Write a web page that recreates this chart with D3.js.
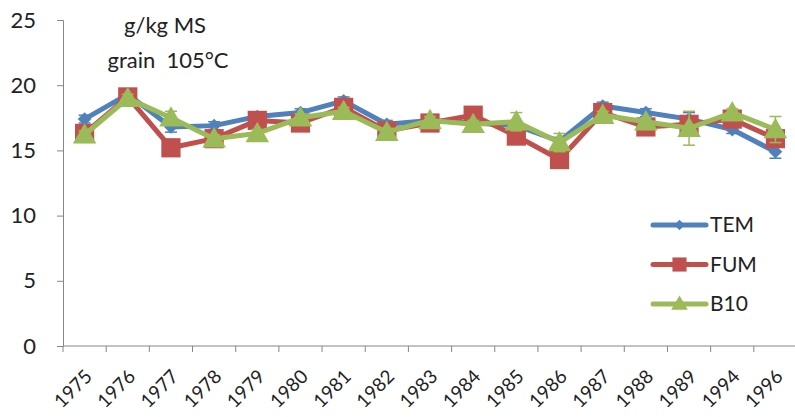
<!DOCTYPE html>
<html>
<head>
<meta charset="utf-8">
<script src="https://cdn.jsdelivr.net/npm/d3@7"></script>
<style>
  body { margin: 0; background: #fff; }
  text { font-family: Lato, "Open Sans", sans-serif; fill: #222; white-space: pre; }
</style>
</head>
<body>
<div class="canvas"></div>
<script>
// categories (years) and series
const years = ['1975','1976','1977','1978','1979','1980','1981','1982','1983','1984','1985','1986','1987','1988','1989','1994','1996'];
const tem = [17.4, 19.3, 16.8, 16.9, 17.6, 17.9, 18.8, 17.0, 17.3, 17.1, 16.9, 15.7, 18.4, 17.9, 17.4, 16.6, 14.9];
const fum = [16.3, 19.1, 15.2, 15.9, 17.3, 17.1, 18.3, 16.5, 17.1, 17.7, 16.1, 14.3, 17.9, 16.8, 17.0, 17.4, 15.9];
const b10 = [16.2, 19.0, 17.5, 15.9, 16.3, 17.5, 18.0, 16.4, 17.3, 17.0, 17.2, 15.6, 17.7, 17.2, 16.7, 17.9, 16.6];
// error bars (only a few visible outside the markers)
const temErr = [0.3, 0.3, 0.4, 0.3, 0.3, 0.3, 0.3, 0.3, 0.3, 0.3, 0.3, 0.3, 0.3, 0.3, 0.5, 0.3, 0.5];
const fumErr = [0.3, 0.3, 0.3, 0.3, 0.3, 0.3, 0.3, 0.3, 0.3, 0.3, 0.3, 0.3, 0.3, 0.3, 0.3, 0.3, 0.3];
const b10Err = [0.3, 0.3, 0.5, 0.3, 0.3, 0.3, 0.3, 0.3, 0.3, 0.3, 0.7, 0.7, 0.3, 0.3, 1.3, 0.3, 1.0];
const yTicks = [0, 5, 10, 15, 20, 25];
const titleLines = ['g/kg MS', 'grain  105°C'];

const series = [
  { name: 'TEM', values: tem, err: temErr, color: '#4F81BD', shape: 'diamond' },
  { name: 'FUM', values: fum, err: fumErr, color: '#C0504D', shape: 'square' },
  { name: 'B10', values: b10, err: b10Err, color: '#9BBB59', shape: 'triangle' }
];

const dims = { width: 795, height: 417 };
const plot = { left: 63, right: 797, top: 20, bottom: 346 };

const svg = d3.select('.canvas').append('svg')
  .attr('width', dims.width)
  .attr('height', dims.height);

const x = d3.scaleBand().domain(years).range([plot.left, plot.right]);
const y = d3.scaleLinear().domain([0, 25]).range([plot.bottom, plot.top]);

// y axis
const yAxis = svg.append('g')
  .attr('transform', `translate(${plot.left},0)`)
  .call(d3.axisLeft(y).tickValues(yTicks).tickSize(6).tickPadding(21));
yAxis.select('.domain').attr('stroke', '#868686');
yAxis.selectAll('.tick line').attr('stroke', '#868686');
yAxis.selectAll('text').style('font-size', '22px').attr('fill', '#222');

// x axis: line with ticks at category boundaries
const xg = svg.append('g').attr('transform', `translate(0,${plot.bottom})`);
xg.append('line')
  .attr('x1', plot.left).attr('x2', plot.right)
  .attr('stroke', '#868686');
xg.selectAll('.xt')
  .data(years.concat(['end']))
  .join('line')
  .attr('class', 'xt')
  .attr('x1', (d, i) => plot.left + i * x.step())
  .attr('x2', (d, i) => plot.left + i * x.step())
  .attr('y1', 0).attr('y2', 6)
  .attr('stroke', '#868686');
xg.selectAll('.xl')
  .data(years)
  .join('text')
  .attr('class', 'xl')
  .attr('transform', d => `translate(${x(d) + x.bandwidth() / 2 + 4},${27}) rotate(-45)`)
  .attr('text-anchor', 'end')
  .attr('dy', '0.35em')
  .style('font-size', '19px')
  .text(d => d);

// markers
const symbolFor = {
  diamond: d3.symbol().type(d3.symbolDiamond2).size(120),
  square: d3.symbol().type(d3.symbolSquare).size(370),
  triangle: d3.symbol().type(d3.symbolTriangle).size(240)
};

const cx = i => x(years[i]) + x.bandwidth() / 2;

const line = d3.line()
  .x((d, i) => cx(i))
  .y(d => y(d));

series.forEach(s => {
  const g = svg.append('g');

  // error bars
  s.values.forEach((v, i) => {
    const e = s.err[i];
    g.append('line')
      .attr('x1', cx(i)).attr('x2', cx(i))
      .attr('y1', y(v - e)).attr('y2', y(v + e))
      .attr('stroke', s.color).attr('stroke-width', 1.5);
    [v - e, v + e].forEach(w => {
      g.append('line')
        .attr('x1', cx(i) - 6).attr('x2', cx(i) + 6)
        .attr('y1', y(w)).attr('y2', y(w))
        .attr('stroke', s.color).attr('stroke-width', 1.5);
    });
  });

  g.append('path')
    .datum(s.values)
    .attr('d', line)
    .attr('fill', 'none')
    .attr('stroke', s.color)
    .attr('stroke-width', 5)
    .attr('stroke-linejoin', 'round');

  g.selectAll('.mk')
    .data(s.values)
    .join('path')
    .attr('class', 'mk')
    .attr('transform', (d, i) => `translate(${cx(i)},${y(d) + (s.shape === 'triangle' ? 2 : 0)})`)
    .attr('d', symbolFor[s.shape]())
    .attr('fill', s.color);
});

// title inside plot
svg.selectAll('.title')
  .data(titleLines)
  .join('text')
  .attr('class', 'title')
  .attr('x', (d, i) => i === 0 ? 165 : 168)
  .attr('y', (d, i) => 33 + i * 35)
  .attr('text-anchor', 'middle')
  .style('font-size', '22px')
  .text(d => d);

// legend
const legend = svg.append('g').attr('transform', 'translate(653,225)');
const items = legend.selectAll('g')
  .data(series)
  .join('g')
  .attr('transform', (d, i) => `translate(0,${i * 39.5})`);
items.append('line')
  .attr('x1', 0).attr('x2', 53)
  .attr('stroke', d => d.color)
  .attr('stroke-width', 5)
  .attr('stroke-linecap', 'round');
items.append('path')
  .attr('transform', d => `translate(26.5,${d.shape === 'triangle' ? 1 : 0})`)
  .attr('d', d => d3.symbol().type(
      d.shape === 'diamond' ? d3.symbolDiamond2 : d.shape === 'square' ? d3.symbolSquare : d3.symbolTriangle)
    .size(d.shape === 'diamond' ? 70 : d.shape === 'square' ? 200 : 120)())
  .attr('fill', d => d.color);
items.append('text')
  .attr('x', 57)
  .attr('dy', '0.35em')
  .style('font-size', '21px')
  .text(d => d.name);
</script>
</body>
</html>
